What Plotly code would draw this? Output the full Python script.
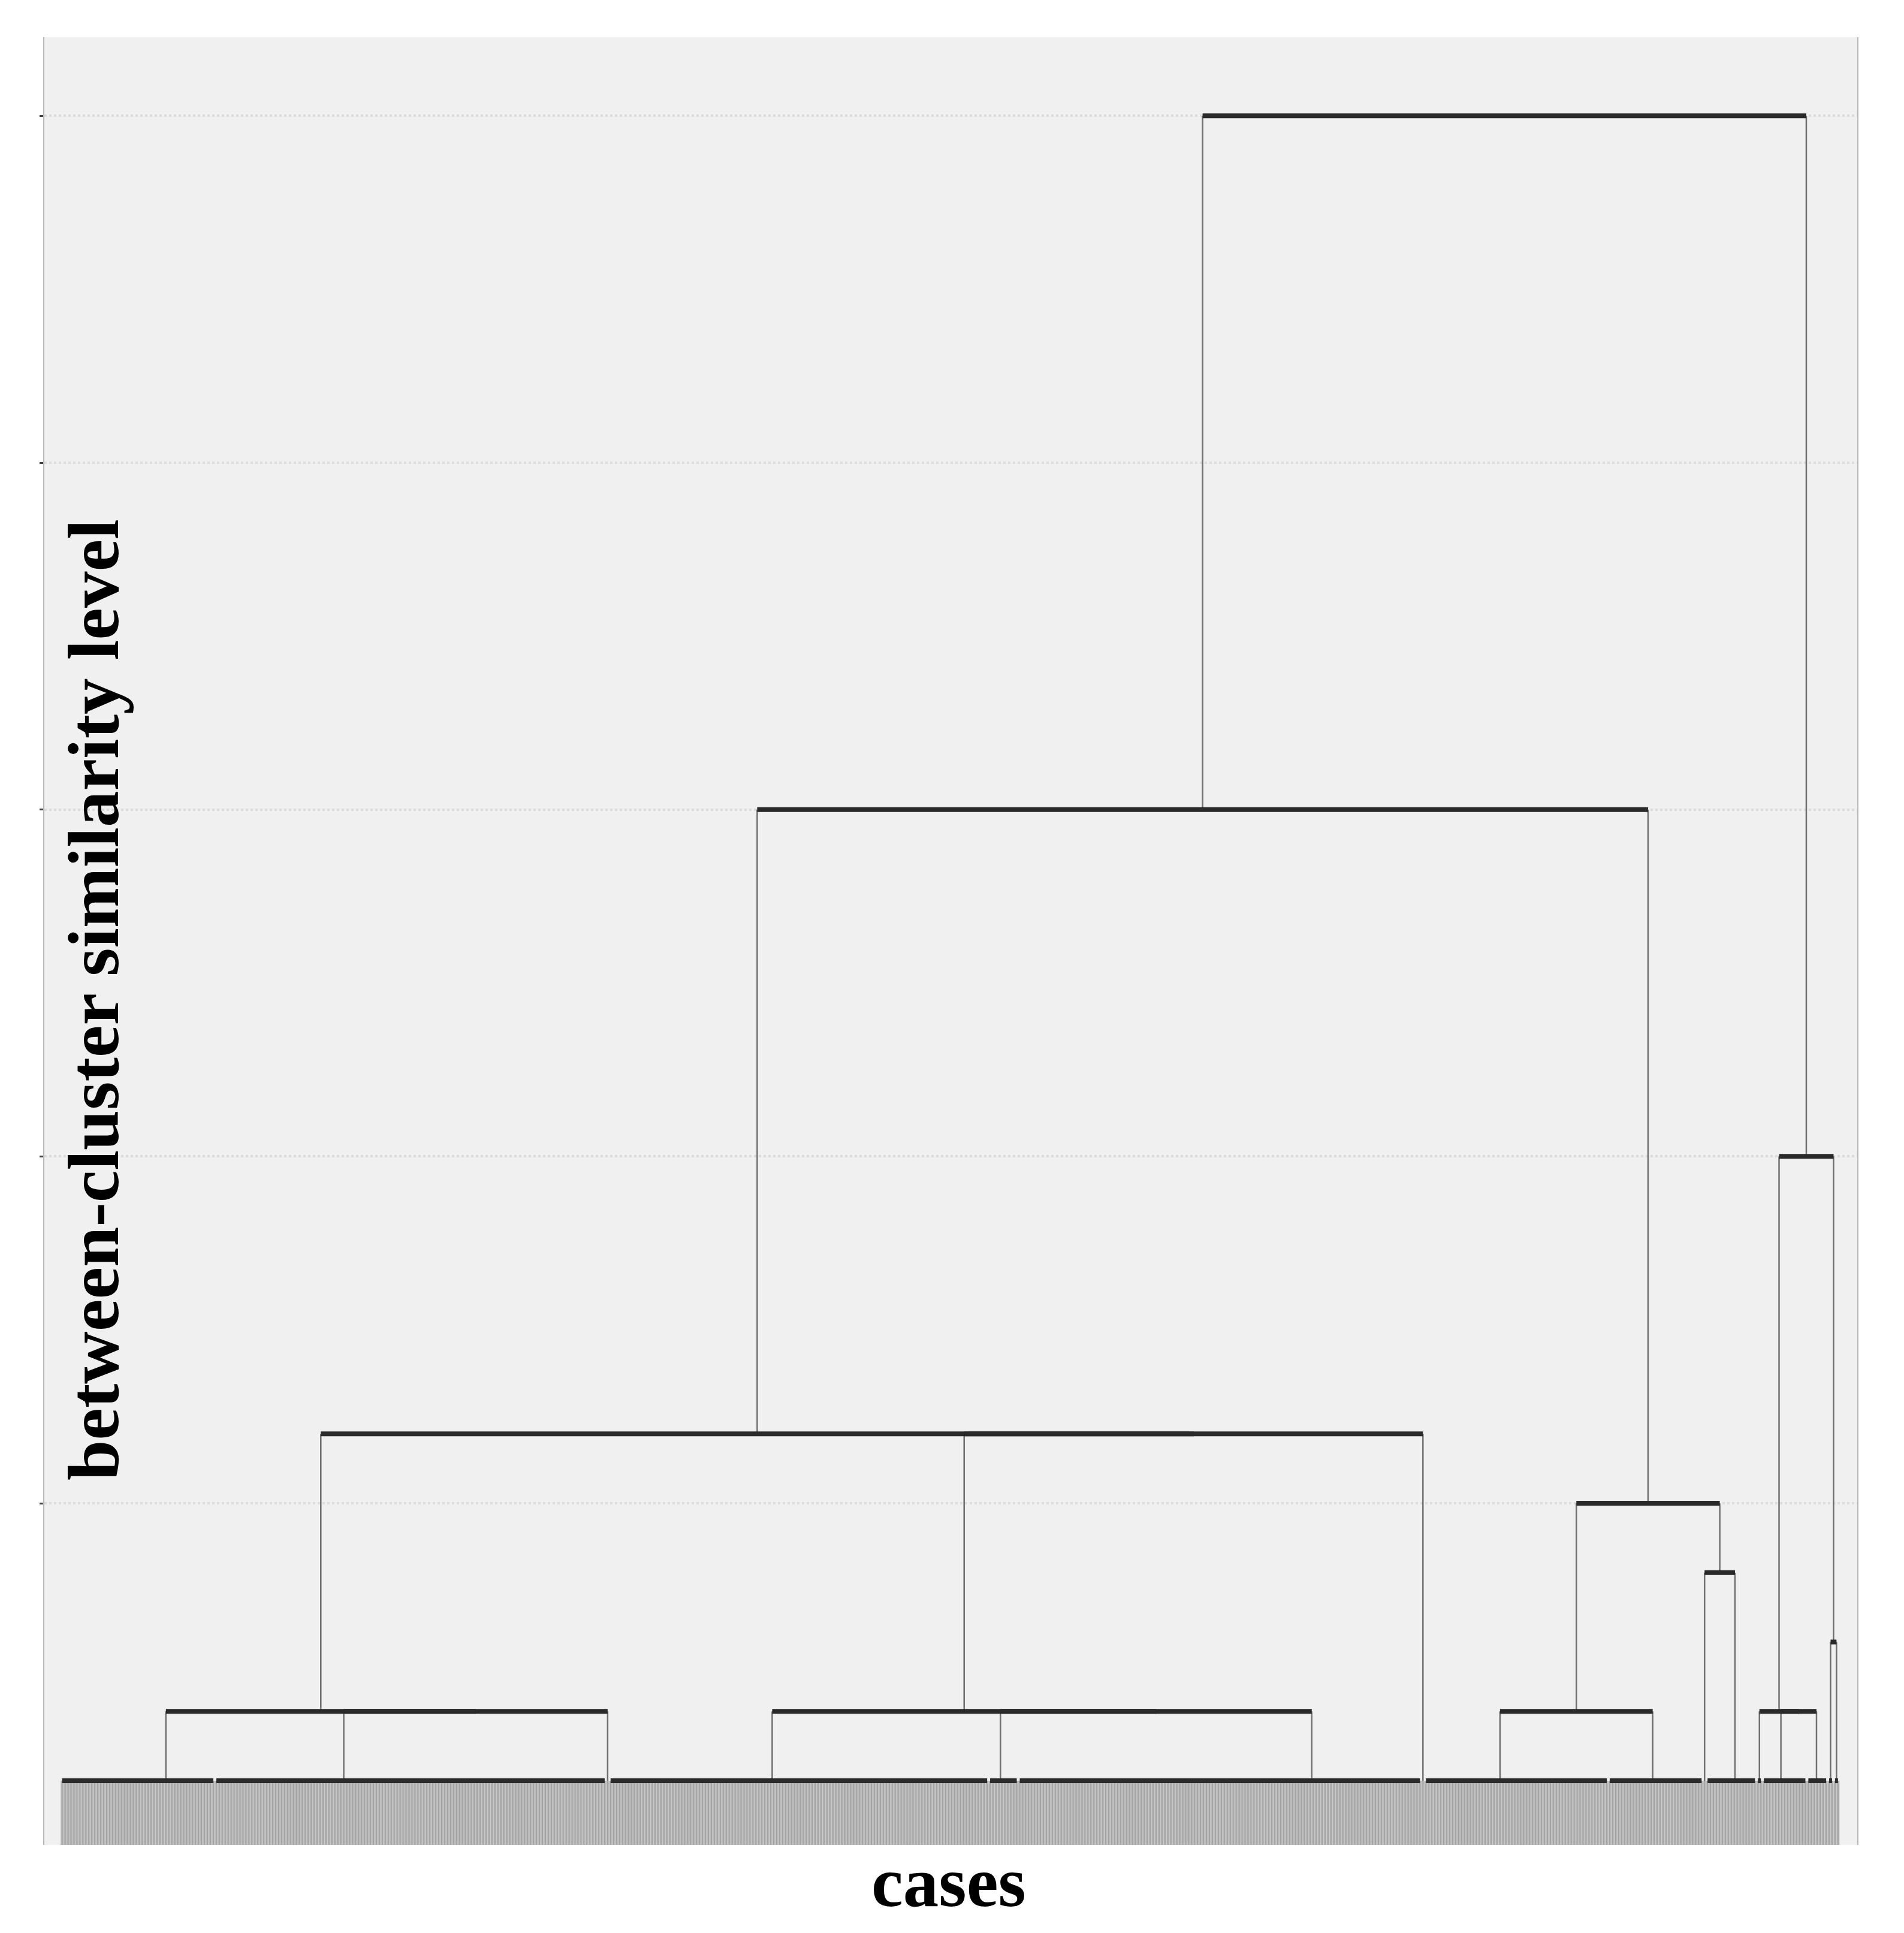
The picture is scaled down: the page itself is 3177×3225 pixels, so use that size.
import plotly.graph_objects as go

# ---------------- data ----------------
# leaf-level clusters (merged at leaf height), listed left to right.
# each cluster = two balanced blocks of leaves: (left block size, right block size); singleton leaf = (1, 0)
group_names = ["A", "B", "S1", "C", "D", "E", "S2", "F", "G", "S3", "H", "K1", "I", "J", "K2", "K3"]
group_left  = [45, 21, 1, 46, 3, 130, 1, 20, 14, 1, 11, 1, 5, 3, 1, 1]
group_right = [7, 111, 0, 82, 7, 6, 0, 42, 18, 0, 6, 1, 10, 4, 1, 1]
leaf_height = 0.2

# higher-level merges (between-cluster similarity level)
merge_names  = ["n1", "n2", "n3", "n4", "n5", "n6", "n7", "n8", "n9", "n10", "n11", "n12", "n13", "n14", "root"]
merge_left   = ["B", "A", "D", "C", "n4", "n2", "F", "S3", "n7", "n6", "I", "K1", "K2", "n12", "n10"]
merge_right  = ["S1", "n1", "E", "n3", "S2", "n5", "G", "H", "n8", "n9", "J", "n11", "K3", "n13", "n14"]
merge_height = [0.4, 0.4, 0.4, 0.4, 1.2, 1.2, 0.4, 0.8, 1.0, 3.0, 0.4, 0.4, 0.6, 2.0, 5.0]

grid_levels = [1, 2, 3, 4, 5]

# ---------------- layout computation ----------------
pos = {}
hgt = {}
leaf_x = []
hx, hy = [], []   # horizontal segments
vx, vy = [], []   # vertical segments

start = 1
for name, l, r in zip(group_names, group_left, group_right):
    n = l + r
    leaves = list(range(start, start + n))
    leaf_x.extend(leaves)
    if r == 0:
        c = float(start)
    else:
        cl = start + (l - 1) / 2
        cr = start + l + (r - 1) / 2
        c = (cl + cr) / 2
        hx += [leaves[0], leaves[-1], None]
        hy += [leaf_height, leaf_height, None]
    pos[name] = c
    hgt[name] = leaf_height
    start += n

for name, a, b, h in zip(merge_names, merge_left, merge_right, merge_height):
    xa, xb = pos[a], pos[b]
    hx += [xa, xb, None]
    hy += [h, h, None]
    vx += [xa, xa, None, xb, xb, None]
    vy += [hgt[a], h, None, hgt[b], h, None]
    pos[name] = (xa + xb) / 2
    hgt[name] = h

n_leaves = len(leaf_x)
lx, ly = [], []
for x in leaf_x:
    lx += [x, x, None]
    ly += [leaf_height, 0, None]

# ---------------- figure ----------------
fig = go.Figure()
fig.add_trace(go.Scatter(x=lx, y=ly, mode="lines",
                         line=dict(color="#bdbdbd", width=5), hoverinfo="skip", showlegend=False))
fig.add_trace(go.Scatter(x=lx, y=ly, mode="lines",
                         line=dict(color="#a2a2a2", width=1.8), hoverinfo="skip", showlegend=False))
fig.add_trace(go.Scatter(x=vx, y=vy, mode="lines",
                         line=dict(color="#707070", width=2.5), hoverinfo="skip", showlegend=False))
fig.add_trace(go.Scatter(x=hx, y=hy, mode="lines",
                         line=dict(color="#2a2a2a", width=8), hoverinfo="skip", showlegend=False))

W, H = 3177, 3225
# the page body adds an 8px offset; margins compensate so the plot area lands where the reference has it
ml, mr, mt, mb = 66, 86, 54, 155
fig.update_layout(
    width=W, height=H,
    margin=dict(l=ml, r=mr, t=mt, b=mb, pad=0),
    paper_bgcolor="white",
    plot_bgcolor="#f0f0f0",
    showlegend=False,
    font=dict(family="Liberation Serif", color="black"),
)
fig.update_xaxes(range=[-5, n_leaves + 6.5], showgrid=False, zeroline=False,
                 showticklabels=False, ticks="", showline=False)
fig.update_yaxes(range=[0.015, 5.227], tickvals=grid_levels, ticks="outside", ticklen=6,
                 tickwidth=3, tickcolor="#444444", showticklabels=False,
                 showgrid=True, gridcolor="#dcdcdc", gridwidth=4, griddash="dot",
                 zeroline=False, showline=True, linecolor="#b8b8b8", linewidth=2, mirror=True)

fig.add_annotation(text="cases", xref="paper", yref="paper", x=0.4988, y=-0.0206,
                   xanchor="center", yanchor="middle", showarrow=False,
                   font=dict(family="Liberation Serif", size=119, color="black", weight="bold"))
fig.add_annotation(text="between-cluster similarity level", xref="paper", yref="paper",
                   x=0.0271, y=0.4675, xanchor="center", yanchor="middle", textangle=-90,
                   showarrow=False,
                   font=dict(family="Liberation Serif", size=121, color="black", weight="bold"))

fig.write_html("out.html")
